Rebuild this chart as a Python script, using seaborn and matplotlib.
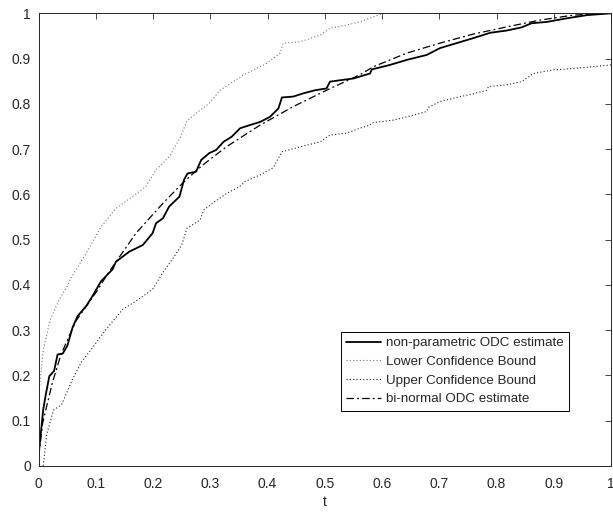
import numpy as np
import pandas as pd
import matplotlib
matplotlib.use("Agg")
import matplotlib.pyplot as plt
import seaborn as sns

# ---- data ----
np_t = [0.0, 0.008, 0.0128, 0.0186, 0.027, 0.033, 0.042, 0.05, 0.059, 0.068, 0.083, 0.094,
        0.109, 0.129, 0.135, 0.158, 0.182, 0.199, 0.205, 0.217, 0.228, 0.246, 0.254, 0.26,
        0.275, 0.284, 0.298, 0.31, 0.323, 0.337, 0.352, 0.369, 0.387, 0.404, 0.419, 0.425,
        0.445, 0.462, 0.483, 0.503, 0.509, 0.532, 0.55, 0.579, 0.582, 0.614, 0.643, 0.678,
        0.701, 0.730, 0.759, 0.789, 0.818, 0.844, 0.861, 0.888, 0.923, 0.958, 1.0]
np_v = [0.025, 0.125, 0.16, 0.198, 0.21, 0.246, 0.248, 0.265, 0.305, 0.331, 0.353, 0.375,
        0.408, 0.434, 0.451, 0.473, 0.488, 0.514, 0.536, 0.547, 0.573, 0.595, 0.632, 0.646,
        0.65, 0.676, 0.691, 0.698, 0.716, 0.727, 0.746, 0.753, 0.76, 0.771, 0.79, 0.814,
        0.816, 0.823, 0.83, 0.834, 0.849, 0.853, 0.856, 0.867, 0.876, 0.886, 0.897, 0.908,
        0.923, 0.934, 0.945, 0.957, 0.962, 0.969, 0.978, 0.981, 0.989, 0.996, 1.0]

bn_t = [0.0, 0.007, 0.024, 0.039, 0.065, 0.1, 0.121, 0.17, 0.217, 0.254, 0.287, 0.328,
        0.387, 0.445, 0.503, 0.561, 0.585, 0.643, 0.701, 0.759, 0.818, 0.876, 0.934, 1.0]
bn_v = [0.02, 0.095, 0.184, 0.246, 0.32, 0.383, 0.425, 0.514, 0.58, 0.628, 0.665, 0.705,
        0.753, 0.794, 0.83, 0.864, 0.882, 0.912, 0.934, 0.954, 0.970, 0.985, 0.996, 1.0]

hi_t = [0.0, 0.008, 0.02, 0.036, 0.05, 0.056, 0.083, 0.109, 0.135, 0.164, 0.187, 0.205,
        0.228, 0.247, 0.259, 0.282, 0.298, 0.317, 0.358, 0.398, 0.422, 0.427, 0.457, 0.492,
        0.509, 0.538, 0.561, 0.585, 0.602, 1.0]
hi_v = [0.156, 0.256, 0.322, 0.368, 0.397, 0.414, 0.47, 0.528, 0.569, 0.595, 0.617, 0.654,
        0.683, 0.724, 0.762, 0.786, 0.801, 0.83, 0.864, 0.889, 0.912, 0.934, 0.937, 0.952,
        0.967, 0.974, 0.981, 0.992, 1.0, 1.0]

lo_t = [0.008, 0.014, 0.026, 0.04, 0.059, 0.074, 0.094, 0.118, 0.147, 0.17, 0.199, 0.217,
        0.235, 0.25, 0.259, 0.282, 0.288, 0.308, 0.326, 0.352, 0.36, 0.387, 0.41, 0.425,
        0.457, 0.492, 0.509, 0.538, 0.561, 0.579, 0.582, 0.62, 0.649, 0.678, 0.681, 0.701,
        0.730, 0.759, 0.783, 0.786, 0.818, 0.844, 0.864, 0.899, 0.934, 0.969, 1.0]
lo_v = [0.0, 0.07, 0.123, 0.135, 0.191, 0.228, 0.261, 0.302, 0.346, 0.364, 0.39, 0.427,
        0.459, 0.488, 0.525, 0.543, 0.565, 0.584, 0.6, 0.618, 0.628, 0.643, 0.659, 0.694,
        0.705, 0.716, 0.731, 0.735, 0.746, 0.753, 0.758, 0.764, 0.773, 0.783, 0.792, 0.805,
        0.814, 0.822, 0.83, 0.838, 0.842, 0.849, 0.867, 0.875, 0.878, 0.882, 0.886]

labels = ["non-parametric ODC estimate", "Lower Confidence Bound",
          "Upper Confidence Bound", "bi-normal ODC estimate"]
ticks = [0, 0.1, 0.2, 0.3, 0.4, 0.5, 0.6, 0.7, 0.8, 0.9, 1]
tick_labels = ["0", "0.1", "0.2", "0.3", "0.4", "0.5", "0.6", "0.7", "0.8", "0.9", "1"]

# ---- plotting ----
sns.set_style("white")
plt.rcParams["font.family"] = ["Liberation Sans", "DejaVu Sans"]

fig = plt.figure(figsize=(6.13, 5.12), dpi=100)
ax = fig.add_axes([0.0631, 0.0902, 0.9336, 0.8838])

df_np = pd.DataFrame({"t": np_t, "v": np_v})
df_hi = pd.DataFrame({"t": hi_t, "v": hi_v})
df_lo = pd.DataFrame({"t": lo_t, "v": lo_v})
df_bn = pd.DataFrame({"t": bn_t, "v": bn_v})

sns.lineplot(data=df_np, x="t", y="v", ax=ax, sort=False, color="black",
             lw=1.3, label=labels[0])
sns.lineplot(data=df_hi, x="t", y="v", ax=ax, sort=False, color="#777777",
             lw=0.8, linestyle=(0, (1, 2)), label=labels[1])
sns.lineplot(data=df_lo, x="t", y="v", ax=ax, sort=False, color="#222222",
             lw=0.8, linestyle=(0, (1, 2)), label=labels[2])
sns.lineplot(data=df_bn, x="t", y="v", ax=ax, sort=False, color="black",
             lw=0.9, linestyle=(0, (6, 2.5, 1.5, 2.5)), label=labels[3])

ax.set_xlim(0, 1)
ax.set_ylim(0, 1)
ax.set_xticks(ticks)
ax.set_xticklabels(tick_labels)
ax.set_yticks(ticks)
ax.set_yticklabels(tick_labels)
ax.set_xlabel("t", fontsize=10, color="#262626", labelpad=3)
ax.set_ylabel("")
ax.tick_params(direction="in", length=4, width=0.6, colors="#262626",
               labelsize=10, top=True, right=True)
ax.tick_params(axis="x", pad=8)
ax.tick_params(axis="y", pad=5.5)
for s in ax.spines.values():
    s.set_linewidth(0.7)
    s.set_color("#262626")
    s.set_visible(True)

leg = ax.legend(loc="upper right", bbox_to_anchor=(0.927, 0.296), borderaxespad=0,
                fontsize=9.6, frameon=True, fancybox=False, framealpha=1,
                edgecolor="black", handlelength=2.6, handletextpad=0.4,
                labelspacing=0.48, borderpad=0.38)
leg.get_frame().set_linewidth(0.7)

fig.savefig("out.png", dpi=100)
